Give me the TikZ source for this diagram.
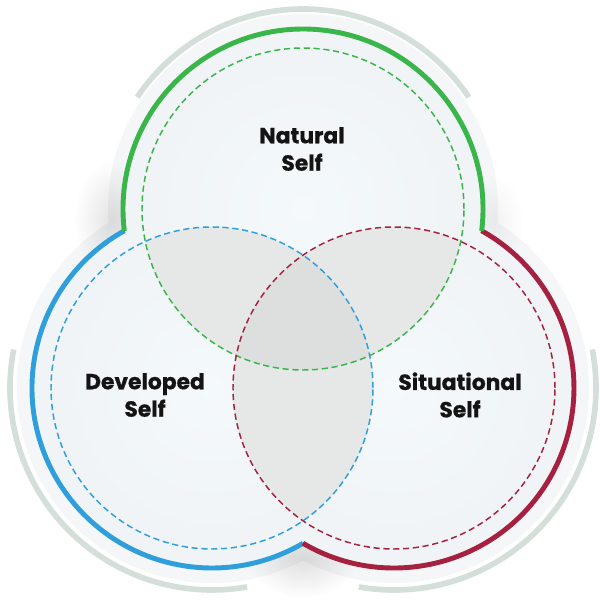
\documentclass[tikz,border=0pt]{standalone}
\usepackage{fontspec}
\setmainfont{Poppins}[BoldFeatures={FakeBold=0.8}]
\usetikzlibrary{fadings}
\definecolor{ngreen}{HTML}{3AB54A}
\definecolor{nblue}{HTML}{2F9FDB}
\definecolor{nred}{HTML}{A6203F}
\definecolor{ringc}{HTML}{D4DFDA}
\definecolor{haloc}{HTML}{F4F6F8}
\definecolor{discc}{HTML}{F0F4F6}
\definecolor{glowc}{HTML}{F5FAFC}
\definecolor{lensc}{HTML}{E5E8E7}
\definecolor{corec}{HTML}{DCDFDE}
\definecolor{inkc}{HTML}{141414}
\tikzfading[name=softblob, inner color=transparent!0, outer color=transparent!100]
\begin{document}
\begin{tikzpicture}[x=0.025cm,y=0.025cm,
  ringarc/.style={draw=ringc, line width=4pt},
  solidarc/.style={line width=3.5pt},
  dashcirc/.style={line width=1.05pt, dash pattern=on 4.4pt off 2.6pt},
  lbl/.style={font=\bfseries\fontsize{15.5}{19.5}\selectfont, text=inkc, align=center}
]
\useasboundingbox (0,0) rectangle (600,600);
\fill[white] (0,0) rectangle (600,600);
\coordinate (G) at (303,391);
\coordinate (B) at (212,212);
\coordinate (R) at (394,212);
% halo
\fill[haloc] (G) circle (195) (B) circle (195) (R) circle (195);
% soft shadows in the concave corners
\fill[black, opacity=0.11, path fading=softblob] (112,380) ellipse (38 and 60);
\fill[black, opacity=0.12, path fading=softblob] (303,40) ellipse (55 and 38);
\fill[black, opacity=0.05, path fading=softblob] (494,380) ellipse (30 and 45);
% outer ring arcs
\draw[ringarc] ([shift={(34:200)}]G) arc (34:146:200);
\draw[ringarc] ([shift={(169:202)}]B) arc (169:280:202);
\draw[ringarc] ([shift={(-100:202)}]R) arc (-100:11:202);
% discs
\fill[discc] (G) circle (180) (B) circle (180) (R) circle (180);
\fill[glowc, opacity=0.9, path fading=softblob] (G) circle (165);
\fill[glowc, opacity=0.9, path fading=softblob] (B) circle (165);
\fill[glowc, opacity=0.9, path fading=softblob] (R) circle (165);
% overlaps
\begin{scope}
  \clip (G) circle (161);
  \fill[lensc] (B) circle (161);
  \fill[lensc] (R) circle (161);
\end{scope}
\begin{scope}
  \clip (B) circle (161);
  \fill[lensc] (R) circle (161);
\end{scope}
\begin{scope}
  \clip (G) circle (161);
  \clip (B) circle (161);
  \fill[corec] (R) circle (161);
\end{scope}
% dashed circles
\draw[dashcirc, ngreen] (G) circle (161);
\draw[dashcirc, nblue] (B) circle (161);
\draw[dashcirc, nred] (R) circle (161);
% solid outer arcs
\draw[solidarc, nblue] ([shift={(119.1:180)}]B) arc (119.1:300.4:180);
\draw[solidarc, nred] ([shift={(-120.4:180)}]R) arc (-120.4:60.9:180);
\draw[solidarc, ngreen] ([shift={(-7:180)}]G) arc (-7:187:180);
% labels
\node[lbl] (natural) at (302,451) {Natural\\Self};
\node[lbl] (developed) at (145,205) {Developed\\Self};
\node[lbl] (situational) at (460,205) {Situational\\Self};
\end{tikzpicture}
\end{document}
